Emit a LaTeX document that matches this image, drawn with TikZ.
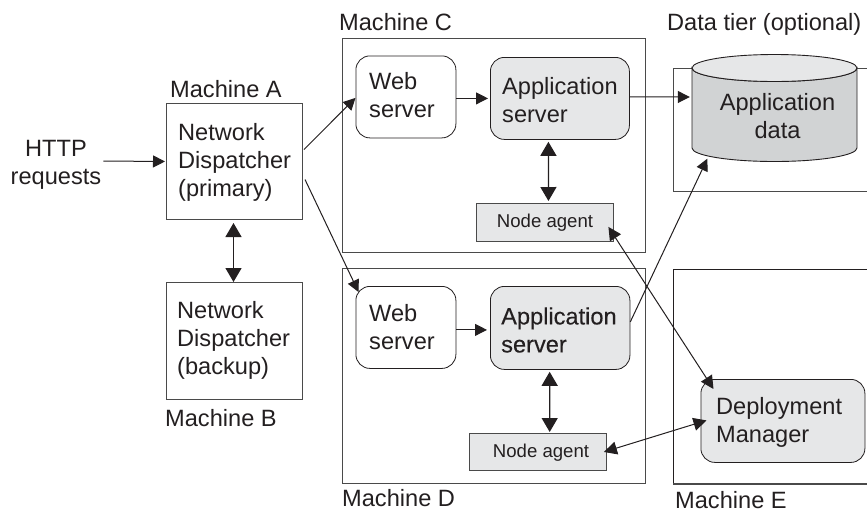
\documentclass[tikz,border=0pt]{standalone}
\usepackage{fontspec}
\setmainfont{Liberation Sans}
\newfontfamily\boldish[FakeBold=0.25]{Liberation Sans}
\usetikzlibrary{arrows.meta,calc}
\definecolor{ink}{HTML}{231F20}
\definecolor{frame}{HTML}{4A4A4A}
\definecolor{lightfill}{HTML}{E6E7E8}
\definecolor{midfill}{HTML}{D1D3D4}
\tikzset{
  x=1pt,y=-1pt,
  every node/.style={text=ink},
  machine/.style={draw=frame,line width=1pt,inner sep=0,anchor=north west},
  round/.style={draw=ink,line width=0.8pt,rounded corners=14pt,inner sep=0,anchor=north west},
  grayround/.style={round,fill=lightfill},
  agent/.style={draw=frame,line width=0.9pt,fill=lightfill,inner sep=0,anchor=north west},
  big/.style={font=\fontsize{23.6}{28}\selectfont,inner sep=0,align=left,anchor=base west},
  small/.style={font=\fontsize{18.6}{22}\selectfont,inner sep=0,anchor=base west},
  one/.style={draw=ink,line width=1pt,-{Triangle[length=12pt,width=12pt]}},
  two/.style={draw=ink,line width=1.3pt,{Triangle[length=14pt,width=16pt]}-{Triangle[length=14pt,width=16pt]}},
  both/.style={draw=ink,line width=1pt,{Triangle[length=13pt,width=13pt]}-{Triangle[length=13pt,width=13pt]}},
}
\begin{document}
\begin{tikzpicture}
\useasboundingbox (0,0) rectangle (867,512);
% machines
\node[machine,minimum width=136pt,minimum height=116pt] (ma) at (166,103) {};
\node[machine,minimum width=136pt,minimum height=117pt] (mb) at (166,282) {};
\node[machine,minimum width=303pt,minimum height=214pt] (mc) at (342,38) {};
\node[machine,minimum width=303pt,minimum height=215pt] (md) at (342,268) {};
% open frames
\draw[frame,line width=1pt] (867,68.5) -- (673,68.5) -- (673,191) -- (867,191);
\draw[ink,line width=1pt] (867,269) -- (673,269) -- (673,484);
\draw[frame,line width=1.3pt] (673,484) -- (867,484);
% inner boxes
\node[round,fill=white,minimum width=100pt,minimum height=82pt] (wc) at (355.5,55.5) {};
\node[grayround,minimum width=139pt,minimum height=82pt] (ac) at (490,57) {};
\node[agent,minimum width=137pt,minimum height=38pt] (nc) at (476,203) {};
\node[round,fill=white,minimum width=100pt,minimum height=82pt] (wd) at (355.5,286) {};
\node[grayround,minimum width=139.5pt,minimum height=83pt] (ad) at (490,286) {};
\node[agent,minimum width=136.5pt,minimum height=37pt] (nd) at (469,433) {};
\node[grayround,minimum width=164pt,minimum height=83pt] (dm) at (700.5,379) {};
% cylinder
\path[fill=midfill,draw=ink,line width=0.9pt] (692,68) -- (692,148)
  arc[start angle=180,end angle=360,x radius=82.5,y radius=-13.5] -- (857,68)
  arc[start angle=0,end angle=180,x radius=82.5,y radius=13.5] -- cycle;
\path[fill=lightfill,draw=ink,line width=0.9pt] (774.5,68) ellipse[x radius=82.5,y radius=13.5];
\node[inner sep=0,minimum width=165pt,minimum height=107pt] (cyl) at (774.5,108) {};
% labels
\node[big] (lc) at (339,30) {Machine C};
\node[big] (ldt) at (667,30.5) {Data tier (optional)};
\node[big] (la) at (170,97) {Machine A};
\node[big] (lb) at (165,426) {Machine B};
\node[big] (ld) at (342,506) {Machine D};
\node[big] (le) at (675,508) {Machine E};
\node[big,align=center,anchor=center] (http) at (56,165) {HTTP\\requests};
\node[big,anchor=west] (ta) at (178,162) {Network\\Dispatcher\\(primary)};
\node[big,anchor=west] (tb) at (177,340) {Network\\Dispatcher\\(backup)};
\node[big,anchor=west] (twc) at (369,95) {Web\\server};
\node[big,anchor=west] (tac) at (502,100) {Application\\server};
\node[big,anchor=west] (twd) at (369,327) {Web\\server};
\node[big,anchor=west,font=\fontsize{23.6}{28}\boldish] (tad) at (501,330) {Application\\server};
\node[big,anchor=west] (tdm) at (716,422) {Deployment\\Manager};
\node[big,align=center,anchor=center] (tcy) at (777.5,116) {Application\\data};
\node[small] (tnc) at (496.7,227) {Node agent};
\node[small] (tnd) at (492.7,457) {Node agent};
% connectors
\draw[one] ($(http.east)+(2,-4)$) -- ($(ma.west)+(-1,0)$);
\draw[two] ($(ma.south)+(-1,3)$) -- ($(mb.north)+(-1,0)$);
\draw[one] ($(ma.east)+(1,-12)$) -- ($(wc.west)+(0,1)$);
\draw[one] ($(ma.east)+(2,18)$) -- ($(wd.north west)+(3,6)$);
\draw[one] ($(wc.east)+(0,1.5)$) -- ($(ac.west)+(-2,0)$);
\draw[one] ($(wd.east)+(0,2.5)$) -- ($(ad.west)+(-3,2)$);
\draw[one] ($(ac.east)+(0,-1.5)$) -- ($(cyl.west)+(-2,-11)$);
\draw[two] ($(ac.south)+(-11.5,2)$) -- ($(nc.north)+(3.5,-2)$);
\draw[two] ($(ad.south)+(-10.5,2)$) -- ($(nd.north)+(12,-1)$);
\draw[one] ($(ad.east)+(0,-6)$) -- ($(cyl.south west)+(15.5,-3)$);
\draw[both] ($(nc.south east)+(-5.5,-15)$) -- ($(dm.north west)+(13,10)$);
\draw[both] ($(nd.east)+(-2.5,0)$) -- ($(dm.west)+(6,-0.5)$);
\end{tikzpicture}
\end{document}
